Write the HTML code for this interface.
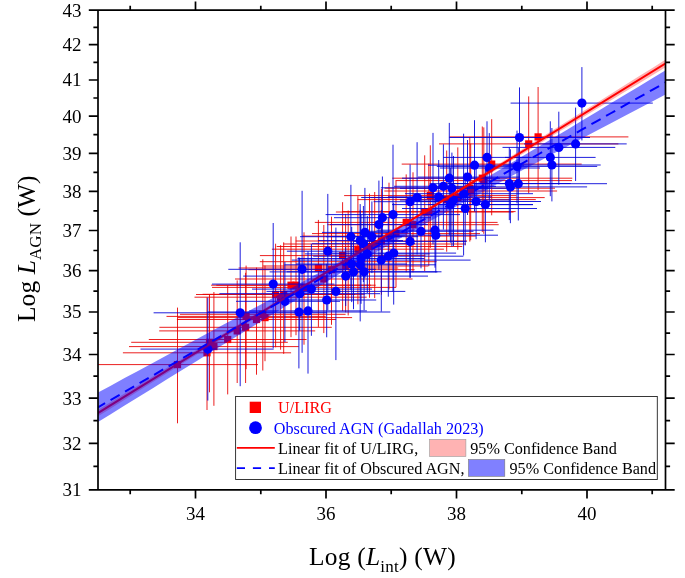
<!DOCTYPE html>
<html><head><meta charset="utf-8"><title>Log L AGN vs Log L int</title>
<style>html,body{margin:0;padding:0;background:#fff}svg{display:block}text{font-family:"Liberation Serif","Times New Roman",serif}</style></head><body>
<svg width="685" height="578" viewBox="0 0 685 578">
<rect width="685" height="578" fill="#fff"/>
<defs><clipPath id="c"><rect x="98.0" y="10.2" width="567.5" height="479.7"/></clipPath></defs>
<g clip-path="url(#c)">
<path d="M97 364.6H258M122.9 352.8H291.1M131.2 342.3H287.8M129 346.6H298.8M148.8 339.5H306.6M159.2 330.9H315.2M159.4 327.3H331.8M166.5 316.4H325.7M176.9 319.5H336.1M180 314.3H345.6M177.9 317.6H352.1M196 294.5H355.2M194.5 297.2H366.7M202.6 294.3H364.8M211.1 285.2H370.9M216.3 285.2H375.7M212 287.4H396M238.6 268H398.2M235 279H412.6M248.4 269.7H414.6M259.9 255.6H425.3M259.8 261.7H436.6M262.9 266H428.3M271.9 249.2H443.9M276.7 246.5H462.3M283.4 244H466M295.7 241H467.1M302.2 236.1H475.8M312 233.6H480M314.8 222.4H497.6M327.3 224.7H498.7M335.9 212H513.5M342 211.6H515.6M344.1 195.6H516.5M357.6 199.6H535.8M370.9 197.6H544.7M384.6 188.2H555M384.3 191H557.1M392.3 178.2H572.3M395.6 180.6H572M401.7 164.1H581.7M439 143.9H618.4M449.4 136.9H628.4M177.5 307.6V423.3M207 297.3V410M209.5 294.5V392.3M213.9 292V405.8M227.7 285.2V394.4M237.2 280.4V383M245.6 272.8V383M246.1 265.6V369.2M256.5 267.6V374.7M262.8 259.3V370.5M265 265.6V361.2M275.6 243.7V347.3M280.6 245.2V349.7M283.7 242.3V353.9M291 236.5V337.2M296 236.5V335.2M304 232.3V344.7M318.4 219.9V326.9M323.8 225V333.1M331.5 216.7V324.8M342.6 202.2V311.1M348.2 210.5V315.4M345.6 213.9V312.3M357.9 196.2V304.3M369.5 193.7V297.8M374.7 192V298.1M381.4 188.9V294.7M389 182.7V289.5M396 180.6V287.4M406.2 174.4V272.3M413 172.3V272.4M424.7 155.3V271M428.8 163.6V266.2M430.3 145.3V247.9M446.7 150.5V251.7M457.8 147.4V249.8M469.8 136.9V241.6M470.7 143.7V240.2M482.3 126.5V232M483.8 127.4V233.8M491.7 119.2V215.3M528.7 96.4V193.1M538.1 87V190" stroke="#e80000" stroke-width="1" fill="none" opacity="0.88"/>
<g fill="#ff0000"><rect x="173.9" y="361" width="7.2" height="7.2"/><rect x="203.4" y="349.2" width="7.2" height="7.2"/><rect x="205.9" y="338.7" width="7.2" height="7.2"/><rect x="210.3" y="343" width="7.2" height="7.2"/><rect x="224.1" y="335.9" width="7.2" height="7.2"/><rect x="233.6" y="327.3" width="7.2" height="7.2"/><rect x="242" y="323.7" width="7.2" height="7.2"/><rect x="242.5" y="312.8" width="7.2" height="7.2"/><rect x="252.9" y="315.9" width="7.2" height="7.2"/><rect x="259.2" y="310.7" width="7.2" height="7.2"/><rect x="261.4" y="314" width="7.2" height="7.2"/><rect x="272" y="290.9" width="7.2" height="7.2"/><rect x="277" y="293.6" width="7.2" height="7.2"/><rect x="280.1" y="290.7" width="7.2" height="7.2"/><rect x="287.4" y="281.6" width="7.2" height="7.2"/><rect x="292.4" y="281.6" width="7.2" height="7.2"/><rect x="300.4" y="283.8" width="7.2" height="7.2"/><rect x="314.8" y="264.4" width="7.2" height="7.2"/><rect x="320.2" y="275.4" width="7.2" height="7.2"/><rect x="327.9" y="266.1" width="7.2" height="7.2"/><rect x="339" y="252" width="7.2" height="7.2"/><rect x="344.6" y="258.1" width="7.2" height="7.2"/><rect x="342" y="262.4" width="7.2" height="7.2"/><rect x="354.3" y="245.6" width="7.2" height="7.2"/><rect x="365.9" y="242.9" width="7.2" height="7.2"/><rect x="371.1" y="240.4" width="7.2" height="7.2"/><rect x="377.8" y="237.4" width="7.2" height="7.2"/><rect x="385.4" y="232.5" width="7.2" height="7.2"/><rect x="392.4" y="230" width="7.2" height="7.2"/><rect x="402.6" y="218.8" width="7.2" height="7.2"/><rect x="409.4" y="221.1" width="7.2" height="7.2"/><rect x="421.1" y="208.4" width="7.2" height="7.2"/><rect x="425.2" y="208" width="7.2" height="7.2"/><rect x="426.7" y="192" width="7.2" height="7.2"/><rect x="443.1" y="196" width="7.2" height="7.2"/><rect x="454.2" y="194" width="7.2" height="7.2"/><rect x="466.2" y="184.6" width="7.2" height="7.2"/><rect x="467.1" y="187.4" width="7.2" height="7.2"/><rect x="478.7" y="174.6" width="7.2" height="7.2"/><rect x="480.2" y="177" width="7.2" height="7.2"/><rect x="488.1" y="160.5" width="7.2" height="7.2"/><rect x="525.1" y="140.3" width="7.2" height="7.2"/><rect x="534.5" y="133.3" width="7.2" height="7.2"/></g>
<path d="M140.5 349.1H273.7M153.6 312.8H327M212 284.1H334.4M228.3 269.3H375.9M286.9 251.2H368.7M236 301.3H340M219.4 293.7H380M252 289.1H372M207.5 312H390.3M249.1 310.9H366.9M277.2 300H376.2M266.5 291.4H405.3M243.2 276.1H428M269.6 271.9H437.4M286.7 271.8H441.5M300 236.7H402M322 232.4H407.8M326 236.7H418M318 240.6H403M312 243.7H415M330 224.6H428M334 217.7H431M325.6 214.6H460M373.6 201.7H452M361.2 197.5H470M380.9 187.8H488M368.5 231.3H473.5M376.5 230.2H493.5M373.6 235.2H498M353.7 241.4H466.5M331.3 253.1H456.1M313.2 256.2H463.4M291.8 260.1H470.6M304.9 253.9H429.7M297.5 258.5H424.5M284.4 264.8H436M296 264H407M443.2 157.4H530.8M428 165.2H524M440 168H540M418 177.1H520M402 178.2H500M394 186.3H496M400 188.3H506M405 193.7H533M388 196.9H492M400 200H510M392 204.6H533M402 208.5H537M416 201.5H541M428 204.6H533M447.9 183.5H570.7M433.7 186.9H587.1M429.6 183.7H607M436.8 166.4H597.2M510.6 103.1H652.8M449.3 137.5H590M524 143.9H626.7M502.5 147.4H615.3M505 157.4H595.6M503 165H600.7M207.8 297.7V400.6M240.2 242.3V386.2M273.2 223V348.3M302.1 190.8V352.8M327.8 193.9V310.2M284.9 262V342M299.7 257.8V330.7M311.4 243.8V335.8M298.9 257.3V368.4M308 251.2V373.6M326.7 263.8V337.3M335.9 227.6V360.1M345.7 247.1V306M353.5 235.7V309.2M364.1 234.6V310.2M350.9 184.8V290.2M364.9 187.9V278.2M371.9 201.4V273.1M360.2 204.1V278.2M363.4 206V282M378.9 180.6V269.9M382.4 176.5V260.1M393 144.7V291.5M410.1 164.4V278M417.1 142.2V254.5M433 132.9V244.3M421 195.4V268.3M435 193.8V267.7M435.8 199.1V272.4M410.1 206.3V277.6M393.7 203.1V304.6M388.3 216.9V296.7M381.3 210.1V311.6M367.3 215.9V293M361 214.5V303.8M360.2 209.8V321.4M351.7 227V302.1M487 121.3V194.6M474.5 120.2V211.5M489.3 133.1V203.9M467.5 140V215M449.3 122.9V235.2M443.4 144.3V229.6M451.9 152.6V246.5M463.6 133.7V255.5M438.7 160V235M453.5 156V246M450.4 167.6V242.7M465.2 172.7V245.4M476.1 164.9V239.2M485.4 168V242.3M509.3 147.4V220.1M510.4 149.3V223.2M518.3 148V220.5M517 130.6V203.3M581.9 67.1V140.5M519.5 87.4V188M575.6 107.6V181M558.8 111.7V184.8M550.3 121.3V196.2M551.9 128V201.4" stroke="#0000d8" stroke-width="1" fill="none" opacity="0.88"/>
<g fill="#0000ff"><circle cx="207.8" cy="349.1" r="4.6"/><circle cx="240.2" cy="312.8" r="4.6"/><circle cx="273.2" cy="284.1" r="4.6"/><circle cx="302.1" cy="269.3" r="4.6"/><circle cx="327.8" cy="251.2" r="4.6"/><circle cx="284.9" cy="301.3" r="4.6"/><circle cx="299.7" cy="293.7" r="4.6"/><circle cx="311.4" cy="289.1" r="4.6"/><circle cx="298.9" cy="312" r="4.6"/><circle cx="308" cy="310.9" r="4.6"/><circle cx="326.7" cy="300" r="4.6"/><circle cx="335.9" cy="291.4" r="4.6"/><circle cx="345.7" cy="276.1" r="4.6"/><circle cx="353.5" cy="271.9" r="4.6"/><circle cx="364.1" cy="271.8" r="4.6"/><circle cx="350.9" cy="236.7" r="4.6"/><circle cx="364.9" cy="232.4" r="4.6"/><circle cx="371.9" cy="236.7" r="4.6"/><circle cx="360.2" cy="240.6" r="4.6"/><circle cx="363.4" cy="243.7" r="4.6"/><circle cx="378.9" cy="224.6" r="4.6"/><circle cx="382.4" cy="217.7" r="4.6"/><circle cx="393" cy="214.6" r="4.6"/><circle cx="410.1" cy="201.7" r="4.6"/><circle cx="417.1" cy="197.5" r="4.6"/><circle cx="433" cy="187.8" r="4.6"/><circle cx="421" cy="231.3" r="4.6"/><circle cx="435" cy="230.2" r="4.6"/><circle cx="435.8" cy="235.2" r="4.6"/><circle cx="410.1" cy="241.4" r="4.6"/><circle cx="393.7" cy="253.1" r="4.6"/><circle cx="388.3" cy="256.2" r="4.6"/><circle cx="381.3" cy="260.1" r="4.6"/><circle cx="367.3" cy="253.9" r="4.6"/><circle cx="361" cy="258.5" r="4.6"/><circle cx="360.2" cy="264.8" r="4.6"/><circle cx="351.7" cy="264" r="4.6"/><circle cx="487" cy="157.4" r="4.6"/><circle cx="474.5" cy="165.2" r="4.6"/><circle cx="489.3" cy="168" r="4.6"/><circle cx="467.5" cy="177.1" r="4.6"/><circle cx="449.3" cy="178.2" r="4.6"/><circle cx="443.4" cy="186.3" r="4.6"/><circle cx="451.9" cy="188.3" r="4.6"/><circle cx="463.6" cy="193.7" r="4.6"/><circle cx="438.7" cy="196.9" r="4.6"/><circle cx="453.5" cy="200" r="4.6"/><circle cx="450.4" cy="204.6" r="4.6"/><circle cx="465.2" cy="208.5" r="4.6"/><circle cx="476.1" cy="201.5" r="4.6"/><circle cx="485.4" cy="204.6" r="4.6"/><circle cx="509.3" cy="183.5" r="4.6"/><circle cx="510.4" cy="186.9" r="4.6"/><circle cx="518.3" cy="183.7" r="4.6"/><circle cx="517" cy="166.4" r="4.6"/><circle cx="581.9" cy="103.1" r="4.6"/><circle cx="519.5" cy="137.5" r="4.6"/><circle cx="575.6" cy="143.9" r="4.6"/><circle cx="558.8" cy="147.4" r="4.6"/><circle cx="550.3" cy="157.4" r="4.6"/><circle cx="551.9" cy="165" r="4.6"/></g>
<path d="M96 410.9L110.3 402.2L124.6 393.5L138.9 384.9L153.2 376.2L167.4 367.5L181.7 358.9L196 350.2L210.3 341.5L224.6 332.8L238.9 324.1L253.2 315.4L267.4 306.7L281.7 298L296 289.3L310.3 280.5L324.6 271.8L338.9 263L353.2 254.2L367.5 245.4L381.8 236.6L396 227.8L410.3 218.9L424.6 210.1L438.9 201.2L453.2 192.3L467.5 183.4L481.8 174.5L496.1 165.6L510.3 156.7L524.6 147.8L538.9 138.9L553.2 130L567.5 121L581.8 112.1L596.1 103.2L610.4 94.2L624.6 85.3L638.9 76.3L653.2 67.4L667.5 58.4L667.5 66L653.2 74.7L638.9 83.4L624.6 92L610.4 100.7L596.1 109.3L581.8 118L567.5 126.7L553.2 135.3L538.9 144L524.6 152.7L510.3 161.4L496.1 170.1L481.8 178.7L467.5 187.4L453.2 196.2L438.9 204.9L424.6 213.6L410.3 222.3L396 231.1L381.8 239.9L367.5 248.6L353.2 257.4L338.9 266.3L324.6 275.1L310.3 283.9L296 292.8L281.7 301.7L267.4 310.5L253.2 319.4L238.9 328.3L224.6 337.2L210.3 346.2L196 355.1L181.7 364L167.4 372.9L153.2 381.8L138.9 390.8L124.6 399.7L110.3 408.7L96 417.6Z" fill="#ff0000" fill-opacity="0.3"/>
<path d="M96.0 414.2L667.5 62.2" stroke="#ff0000" stroke-width="2" fill="none"/>
<path d="M96 393.6L110.3 385.9L124.6 378.1L138.9 370.4L153.2 362.7L167.4 355L181.7 347.3L196 339.5L210.3 331.8L224.6 324.1L238.9 316.4L253.2 308.6L267.4 300.9L281.7 293.1L296 285.4L310.3 277.6L324.6 269.8L338.9 261.9L353.2 254.1L367.5 246.1L381.8 238.2L396 230.1L410.3 222L424.6 213.8L438.9 205.6L453.2 197.3L467.5 188.9L481.8 180.5L496.1 172.1L510.3 163.6L524.6 155.1L538.9 146.5L553.2 138L567.5 129.4L581.8 120.8L596.1 112.2L610.4 103.6L624.6 95L638.9 86.4L653.2 77.8L667.5 69.2L667.5 93.4L653.2 100.9L638.9 108.4L624.6 115.9L610.4 123.4L596.1 131L581.8 138.6L567.5 146.2L553.2 153.8L538.9 161.4L524.6 169.1L510.3 176.8L496.1 184.6L481.8 192.4L467.5 200.3L453.2 208.2L438.9 216.2L424.6 224.3L410.3 232.4L396 240.7L381.8 249L367.5 257.4L353.2 265.8L338.9 274.3L324.6 282.9L310.3 291.5L296 300.1L281.7 308.8L267.4 317.5L253.2 326.2L238.9 335L224.6 343.8L210.3 352.6L196 361.4L181.7 370.2L167.4 379L153.2 387.9L138.9 396.7L124.6 405.6L110.3 414.5L96 423.3Z" fill="#0000ff" fill-opacity="0.5"/>
<path d="M96 408.5L110.3 400.2L124.6 391.9L138.9 383.6L153.2 375.3L167.4 367L181.7 358.7L196 350.5L210.3 342.2L224.6 333.9L238.9 325.7L253.2 317.4L267.4 309.2L281.7 301L296 292.8L310.3 284.5L324.6 276.3L338.9 268.1L353.2 259.9L367.5 251.7L381.8 243.6L396 235.4L410.3 227.2L424.6 219.1L438.9 210.9L453.2 202.7L467.5 194.6L481.8 186.5L496.1 178.3L510.3 170.2L524.6 162.1L538.9 154L553.2 145.9L567.5 137.8L581.8 129.7L596.1 121.6L610.4 113.5L624.6 105.4L638.9 97.4L653.2 89.3L667.5 81.3" stroke="#0000ff" stroke-width="2" stroke-dasharray="10.5 6.3" fill="none"/>
</g>
<path d="M88.8 10.2H674.7M88.8 489.9H674.7M98.0 10.2V489.9M665.5 10.2V489.9M93.4 466.4H98.0M665.5 466.4H670.1M88.8 443.4H98.0M665.5 443.4H674.7M93.4 420.6H98.0M665.5 420.6H670.1M88.8 398.2H98.0M665.5 398.2H674.7M93.4 376.2H98.0M665.5 376.2H670.1M88.8 354.5H98.0M665.5 354.5H674.7M93.4 333.1H98.0M665.5 333.1H670.1M88.8 312H98.0M665.5 312H674.7M93.4 291.2H98.0M665.5 291.2H670.1M88.8 270.7H98.0M665.5 270.7H674.7M93.4 250.5H98.0M665.5 250.5H670.1M88.8 230.5H98.0M665.5 230.5H674.7M93.4 210.8H98.0M665.5 210.8H670.1M88.8 191.4H98.0M665.5 191.4H674.7M93.4 172.3H98.0M665.5 172.3H670.1M88.8 153.3H98.0M665.5 153.3H674.7M93.4 134.7H98.0M665.5 134.7H670.1M88.8 116.2H98.0M665.5 116.2H674.7M93.4 98H98.0M665.5 98H670.1M88.8 80H98.0M665.5 80H674.7M93.4 62.3H98.0M665.5 62.3H670.1M88.8 44.7H98.0M665.5 44.7H674.7M93.4 27.3H98.0M665.5 27.3H670.1M130.2 10.2V5.8M130.2 489.9V494.3M195.5 10.2V1.6M195.5 489.9V498.5M260.8 10.2V5.8M260.8 489.9V494.3M326 10.2V1.6M326 489.9V498.5M391.2 10.2V5.8M391.2 489.9V494.3M456.5 10.2V1.6M456.5 489.9V498.5M521.8 10.2V5.8M521.8 489.9V494.3M587 10.2V1.6M587 489.9V498.5M652.2 10.2V5.8M652.2 489.9V494.3" stroke="#000" stroke-width="1.7" fill="none"/>
<g font-size="19" fill="#000">
<text x="81.6" y="496.3" text-anchor="end">31</text>
<text x="81.6" y="449.8" text-anchor="end">32</text>
<text x="81.6" y="404.6" text-anchor="end">33</text>
<text x="81.6" y="360.9" text-anchor="end">34</text>
<text x="81.6" y="318.4" text-anchor="end">35</text>
<text x="81.6" y="277.1" text-anchor="end">36</text>
<text x="81.6" y="236.9" text-anchor="end">37</text>
<text x="81.6" y="197.8" text-anchor="end">38</text>
<text x="81.6" y="159.7" text-anchor="end">39</text>
<text x="81.6" y="122.6" text-anchor="end">40</text>
<text x="81.6" y="86.4" text-anchor="end">41</text>
<text x="81.6" y="51.1" text-anchor="end">42</text>
<text x="81.6" y="16.6" text-anchor="end">43</text>
<text x="195.5" y="519.5" text-anchor="middle">34</text>
<text x="326" y="519.5" text-anchor="middle">36</text>
<text x="456.5" y="519.5" text-anchor="middle">38</text>
<text x="587" y="519.5" text-anchor="middle">40</text>
</g>
<text x="309" y="565" font-size="25.4" letter-spacing="0.25" fill="#000">Log (<tspan font-style="italic">L</tspan><tspan font-size="17" dy="6.5">int</tspan><tspan dy="-6.5">) (W)</tspan></text>
<text transform="translate(34.5,322) rotate(-90)" font-size="25.4" letter-spacing="0.1" fill="#000">Log <tspan font-style="italic">L</tspan><tspan font-size="17" dy="6.5">AGN</tspan><tspan dy="-6.5"> (W)</tspan></text>
<rect x="235.6" y="396.5" width="421.7" height="83" fill="#fff" stroke="#222" stroke-width="0.9"/>
<rect x="249.7" y="401.7" width="11.3" height="11.3" fill="#ff0000"/>
<circle cx="255.5" cy="427.7" r="6.4" fill="#0000ff"/>
<path d="M236.8 447.8H274.8" stroke="#ff0000" stroke-width="1.8"/>
<path d="M236.8 468.1H274.8" stroke="#0000ff" stroke-width="1.8" stroke-dasharray="8.2 7.9"/>
<rect x="429.6" y="439.4" width="36.3" height="17.1" fill="#ffb3b3" stroke="#999" stroke-width="0.6"/>
<rect x="468.5" y="459.5" width="36.3" height="16.8" fill="#8080ff" stroke="#777" stroke-width="0.6"/>
<g font-size="16.2">
<text x="278" y="413" fill="#ff0000">U/LIRG</text>
<text x="273.8" y="433.8" fill="#0000ff">Obscured AGN (Gadallah 2023)</text>
<text x="278" y="454" fill="#000">Linear fit of U/LIRG,</text>
<text x="470.2" y="454" fill="#000">95% Confidence Band</text>
<text x="278" y="474.2" fill="#000">Linear fit of Obscured AGN,</text>
<text x="509.5" y="474.2" fill="#000">95% Confidence Band</text>
</g>
</svg></body></html>
